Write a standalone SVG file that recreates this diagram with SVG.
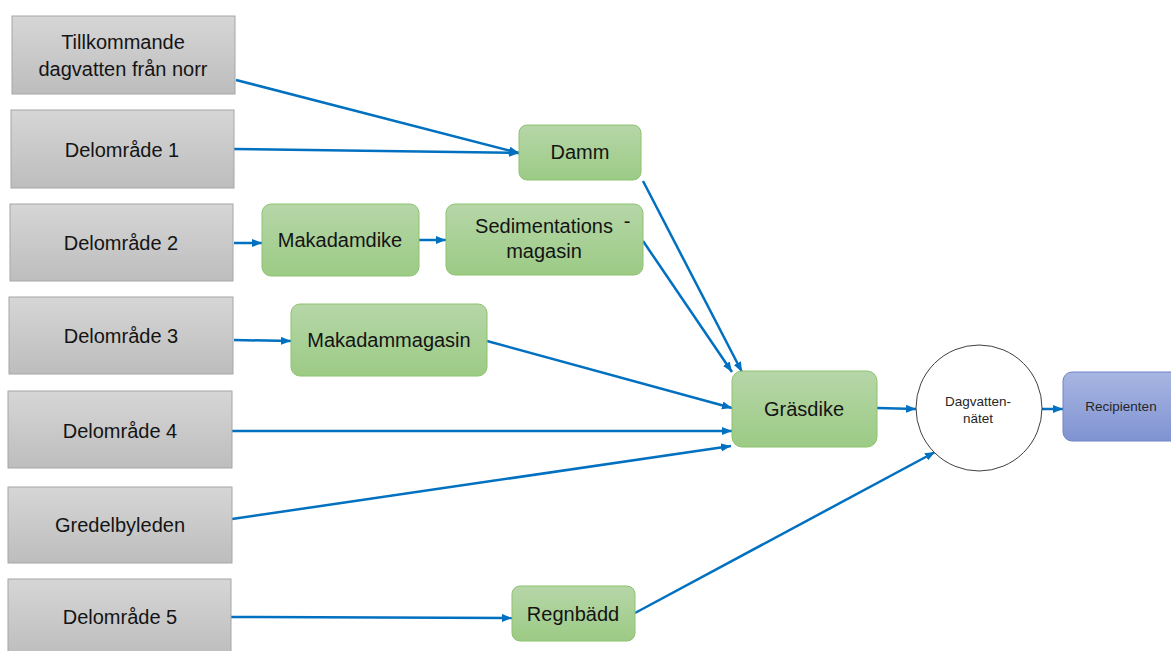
<svg xmlns="http://www.w3.org/2000/svg" width="1171" height="651" viewBox="0 0 1171 651">
<defs>
<linearGradient id="gGray" x1="0" y1="0" x2="0" y2="1"><stop offset="0" stop-color="#d6d6d6"/><stop offset="1" stop-color="#bdbdbd"/></linearGradient>
<linearGradient id="gGreen" x1="0" y1="0" x2="0" y2="1"><stop offset="0" stop-color="#b6d6a8"/><stop offset="1" stop-color="#9ccb85"/></linearGradient>
<linearGradient id="gBlue" x1="0" y1="0" x2="0" y2="1"><stop offset="0" stop-color="#a8b6e2"/><stop offset="1" stop-color="#8093d2"/></linearGradient>
<marker id="arr" markerUnits="userSpaceOnUse" markerWidth="12" markerHeight="10" refX="10" refY="4" orient="auto"><path d="M0,0 L10,4 L0,8 z" fill="#0070c0"/></marker>
<style>
.gray{fill:url(#gGray);stroke:#a6a6a6;stroke-width:1}
.green{fill:url(#gGreen);stroke:#8ec26f;stroke-width:1}
.blue{fill:url(#gBlue);stroke:#6f84c6;stroke-width:1}
.t{font-family:"Liberation Sans",Arial,sans-serif;font-size:20px;fill:#141414;text-anchor:middle}
.s{font-family:"Liberation Sans",Arial,sans-serif;font-size:13.5px;fill:#262626;text-anchor:middle}
.c{fill:none;stroke:#0070c0;stroke-width:2.5;marker-end:url(#arr)}
</style>
</defs>
<rect width="1171" height="651" fill="#ffffff"/>
<g id="connectors">
<line class="c" x1="236" y1="80" x2="519" y2="153"/>
<line class="c" x1="234" y1="149" x2="519" y2="153"/>
<line class="c" x1="234" y1="243" x2="262" y2="243"/>
<line class="c" x1="419" y1="240" x2="446" y2="240"/>
<line class="c" x1="234" y1="340" x2="291" y2="341"/>
<line class="c" x1="643" y1="181" x2="742" y2="372"/>
<line class="c" x1="643" y1="241" x2="732" y2="372"/>
<line class="c" x1="487" y1="341" x2="732" y2="408"/>
<line class="c" x1="232" y1="431" x2="732" y2="431"/>
<line class="c" x1="232" y1="519" x2="731" y2="446"/>
<line class="c" x1="231" y1="617" x2="512" y2="618"/>
<line class="c" x1="635" y1="613" x2="935" y2="452"/>
<line class="c" x1="877" y1="408" x2="916" y2="409"/>
<line class="c" x1="1042" y1="409" x2="1063" y2="409"/>
</g>
<g id="n-tillkommande"><rect class="gray" x="12" y="16" width="223" height="78"/><text class="t" x="123" y="49">Tillkommande</text><text class="t" x="123" y="76">dagvatten från norr</text></g>
<g id="n-d1"><rect class="gray" x="11" y="110" width="223" height="78"/><text class="t" x="122" y="157">Delområde 1</text></g>
<g id="n-d2"><rect class="gray" x="10" y="204" width="223" height="77"/><text class="t" x="121" y="250">Delområde 2</text></g>
<g id="n-d3"><rect class="gray" x="9" y="297" width="224" height="77"/><text class="t" x="121" y="343">Delområde 3</text></g>
<g id="n-d4"><rect class="gray" x="8" y="391" width="224" height="77"/><text class="t" x="120" y="438">Delområde 4</text></g>
<g id="n-gredelbyleden"><rect class="gray" x="8" y="487" width="224" height="76"/><text class="t" x="120" y="532">Gredelbyleden</text></g>
<g id="n-d5"><rect class="gray" x="8" y="579" width="223" height="78"/><text class="t" x="120" y="624">Delområde 5</text></g>
<g id="n-damm"><rect class="green" x="519" y="125" width="122" height="55" rx="8"/><text class="t" x="580" y="159">Damm</text></g>
<g id="n-makadamdike"><rect class="green" x="262" y="204" width="157" height="72" rx="9"/><text class="t" x="340" y="247">Makadamdike</text></g>
<g id="n-sediment"><rect class="green" x="446" y="204" width="197" height="71" rx="9"/><text class="t" x="544" y="233">Sedimentations</text><text class="t" x="627" y="228">-</text><text class="t" x="544" y="258">magasin</text></g>
<g id="n-makadammagasin"><rect class="green" x="291" y="304" width="196" height="72" rx="9"/><text class="t" x="389" y="347">Makadammagasin</text></g>
<g id="n-grasdike"><rect class="green" x="732" y="371" width="145" height="76" rx="10"/><text class="t" x="804" y="416">Gräsdike</text></g>
<g id="n-regnbadd"><rect class="green" x="512" y="586" width="123" height="55" rx="8"/><text class="t" x="573" y="621">Regnbädd</text></g>
<g id="n-dagvattennatet"><circle cx="979" cy="408" r="63" fill="#ffffff" stroke="#404040" stroke-width="1"/><text class="s" x="978" y="406">Dagvatten-</text><text class="s" x="978" y="423">nätet</text></g>
<g id="n-recipienten"><rect class="blue" x="1063" y="372" width="130" height="69" rx="9"/><text class="s" x="1121" y="411">Recipienten</text></g>
</svg>
